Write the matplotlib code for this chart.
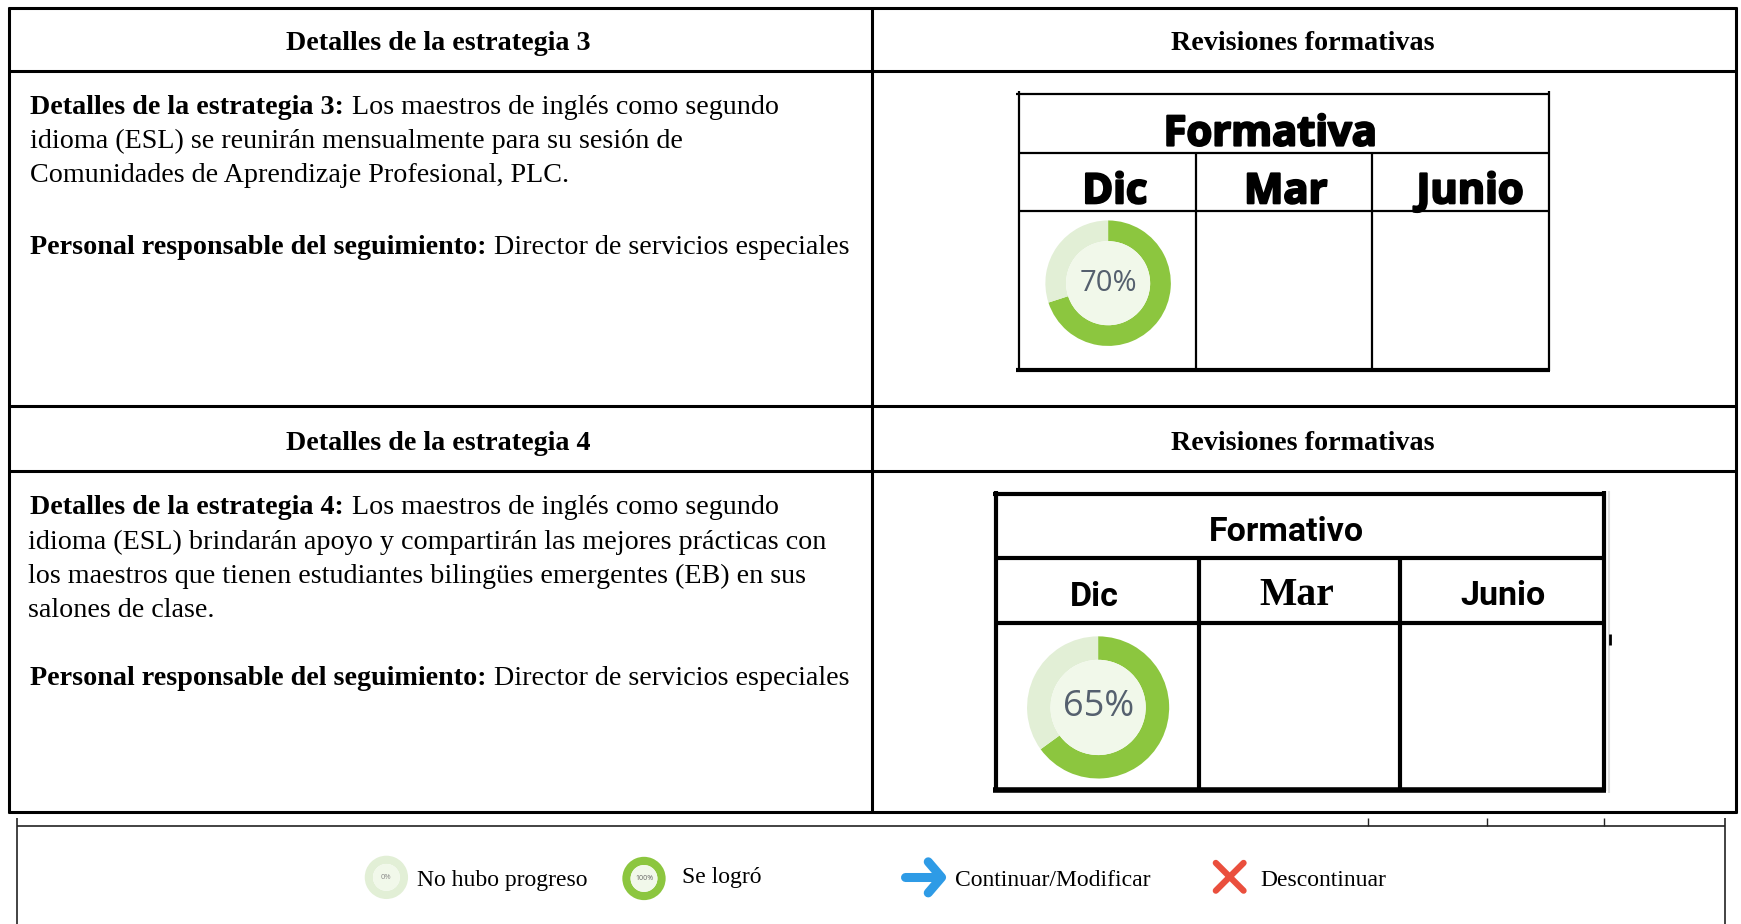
import matplotlib
matplotlib.use("Agg")
import matplotlib.pyplot as plt
from matplotlib.patches import Ellipse
import matplotlib.patheffects as pe

## values
header_left = ["Detalles de la estrategia 3", "Detalles de la estrategia 4"]
header_right = "Revisiones formativas"
strategy_bold = ["Detalles de la estrategia 3:", "Detalles de la estrategia 4:"]
strategy_first = ["Los maestros de inglés como segundo", "Los maestros de inglés como segundo"]
strategy_rest = [["idioma (ESL) se reunirán mensualmente para su sesión de",
                  "Comunidades de Aprendizaje Profesional, PLC."],
                 ["idioma (ESL) brindarán apoyo y compartirán las mejores prácticas con",
                  "los maestros que tienen estudiantes bilingües emergentes (EB) en sus",
                  "salones de clase."]]
resp_bold = "Personal responsable del seguimiento:"
resp_text = "Director de servicios especiales"
table_titles = ["Formativa", "Formativo"]
months = ["Dic", "Mar", "Junio"]
progress = [70, 65]
legend_labels = ["No hubo progreso", "Se logró", "Continuar/Modificar", "Descontinuar"]
legend_progress = [0, 100]

GREEN = "#8cc63f"
PALE = "#e2efd6"
INNER = "#f1f8ea"
W, H = 1568, 832
SERIF = "Liberation Serif"
BODY = 20.25

fig = plt.figure(figsize=(17.41, 9.24), dpi=100, facecolor="white")
ax = fig.add_axes([0, 0, 1, 1])
ax.set_xlim(0, W)
ax.set_ylim(H, 0)
ax.axis("off")


def line(x, y, lw=2.0, color="black"):
    ax.plot(x, y, color=color, lw=lw, solid_capstyle="butt", zorder=3)


def rich(x, y, bold, rest, size=BODY):
    # bold part then regular part right after it
    t = ax.text(x, y, bold, family=SERIF, weight="bold", fontsize=size, va="baseline")
    bb = t.get_window_extent(fig.canvas.get_renderer())
    x2 = bb.x1 / fig.bbox.width * W + 7
    ax.text(x2, y, rest, family=SERIF, fontsize=size, va="baseline")


def donut(cx, cy, r, value, label, size, inner=0.67, color="#55606e"):
    a = fig.add_axes([(cx - r) / W, 1 - (cy + r) / H, 2 * r / W, 2 * r / H])
    a.pie([value, 100 - value], colors=[GREEN, PALE], startangle=90, counterclock=False,
          radius=1, wedgeprops={"width": 1 - inner, "linewidth": 0})
    a.add_patch(Ellipse((0, 0), 2 * inner, 2 * inner, color=INNER, lw=0))
    a.text(0, 0, label, ha="center", va="center", fontsize=size, color=color,
           family="Open Sans")
    a.set_xlim(-1, 1)
    a.set_ylim(-1, 1)
    a.set_aspect("auto")
    a.axis("off")


## main grid
for y in [7, 64, 366, 424, 731]:
    line([7, 1564], [y, y], 2.2)
for x in [8, 785.5, 1563.5]:
    line([x, x], [6, 732], 2.2)

for i, y in enumerate([45, 405]):
    ax.text(395, y, header_left[i], family=SERIF, weight="bold", fontsize=BODY, ha="center", va="baseline")
    ax.text(1173, y, header_right, family=SERIF, weight="bold", fontsize=BODY, ha="center", va="baseline")

## strategy text
rich(27, 103, strategy_bold[0], strategy_first[0])
for y, s in zip([133, 164], strategy_rest[0]):
    ax.text(27, y, s, family=SERIF, fontsize=BODY, va="baseline")
rich(27, 229, resp_bold, resp_text)

rich(27, 463, strategy_bold[1], strategy_first[1])
for y, s in zip([494, 525, 556], strategy_rest[1]):
    ax.text(25, y, s, family=SERIF, fontsize=BODY, va="baseline")
rich(27, 617, resp_bold, resp_text)

## small table, strategy 3
for y, lw in [(85, 1.6), (138, 1.6), (190, 1.6), (333, 3.0)]:
    line([915 if y in (85, 333) else 918, 1396], [y, y], lw)
for x in [918, 1395]:
    line([x, x], [82, 334], 1.6)
for x in [1077, 1236]:
    line([x, x], [138, 334], 1.6)
heavy = [pe.withStroke(linewidth=1.6, foreground="black")]
ax.text(1144, 131, table_titles[0], family="Open Sans", weight="bold", fontsize=30,
        ha="center", va="baseline", path_effects=heavy)
for x, m in zip([1004, 1158, 1324], months):
    ax.text(x, 183, m, family="Open Sans", weight="bold", fontsize=30, ha="center",
            va="baseline", path_effects=heavy)
donut(998, 255, 56.5, progress[0], f"{progress[0]}%", 21)

## small table, strategy 4
for y, lw in [(445, 3.0), (502, 3.0), (561, 3.0), (711, 4.0)]:
    line([894 if y in (445, 711) else 897, 1446], [y, y], lw)
for x in [897, 1445]:
    line([x, x], [442, 712], 3.0)
for x in [1080, 1261]:
    line([x, x], [502, 712], 3.0)
line([1449, 1449], [442, 714], 1.5, "#dddddd")
line([1450, 1450], [571, 581], 2.0)
ax.text(1159, 487, table_titles[1], family="Roboto", weight="bold", fontsize=24.5,
        ha="center", va="baseline")
ax.text(986, 546, months[0], family="Roboto", weight="bold", fontsize=24.5, ha="center", va="baseline")
ax.text(1168, 545, months[1], family=SERIF, weight="bold", fontsize=28.5, ha="center", va="baseline")
ax.text(1354, 545, months[2], family="Roboto", weight="bold", fontsize=24.5, ha="center", va="baseline")
donut(989, 637, 64, progress[1], f"{progress[1]}%", 26)

## legend strip
line([15, 1554], [744, 744], 1.2, "#222222")
for x in [15, 1554]:
    line([x, x], [737, 832], 1.2, "#222222")
for x in [1232, 1339, 1445]:
    line([x, x], [737, 744], 1.0, "#222222")

donut(348, 790, 19.5, legend_progress[0], "0%", 5.5, 0.62, "#888888")
donut(580, 791, 19.5, legend_progress[1], "100%", 5, 0.62, "#666666")
ax.text(376, 798, legend_labels[0], family=SERIF, fontsize=17, va="baseline")
ax.text(614, 795, legend_labels[1], family=SERIF, fontsize=17, va="baseline")
ax.text(860, 798, legend_labels[2], family=SERIF, fontsize=17, va="baseline")
ax.text(1135, 798, legend_labels[3], family=SERIF, fontsize=17, va="baseline")

# arrow
ax.plot([815, 846], [790, 790], color="#2e9be6", lw=6.5, solid_capstyle="round")
ax.plot([836, 848, 836], [776, 790, 804], color="#2e9be6", lw=6.5,
        solid_capstyle="round", solid_joinstyle="round")
# cross
ax.plot([1095, 1120], [777, 802], color="#ea4f3d", lw=4.5, solid_capstyle="round")
ax.plot([1120, 1095], [777, 802], color="#ea4f3d", lw=4.5, solid_capstyle="round")

fig.savefig("out.png", dpi=100, facecolor="white")
